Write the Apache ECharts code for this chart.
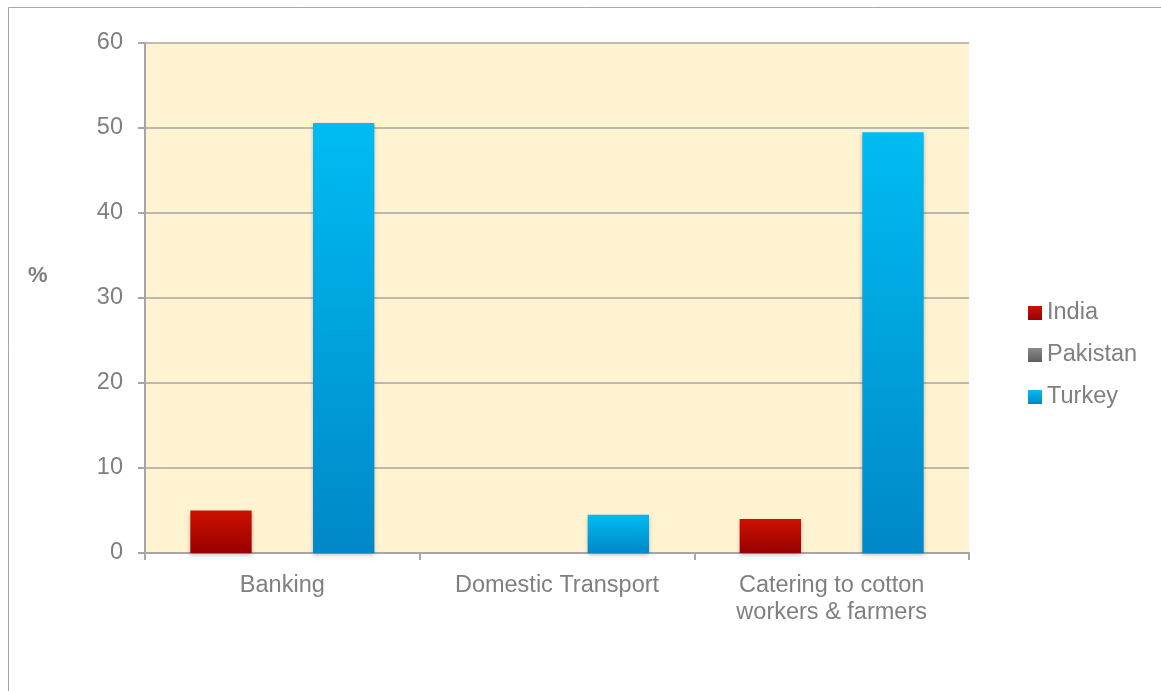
<!DOCTYPE html>
<html><head><meta charset="utf-8">
<script src="https://cdn.jsdelivr.net/npm/echarts@6/dist/echarts.min.js"></script>
<style>html,body{margin:0;padding:0;background:#fff}#c{width:1161px;height:691px}</style>
</head><body><div id="c"></div>
<script>
const categories = ['Banking', 'Domestic Transport', 'Catering to cotton\nworkers & farmers'];
const seriesNames = ['India', 'Pakistan', 'Turkey'];
const india = [5, 0, 4];
const pakistan = [0, 0, 0];
const turkey = [50.6, 4.5, 49.5];
const yTicks = [0, 10, 20, 30, 40, 50, 60];

const grad = (top, bottom) => new echarts.graphic.LinearGradient(0, 0, 0, 1, [
  {offset: 0, color: top}, {offset: 1, color: bottom}
]);
const colors = {
  India: grad('#CC1100', '#990000'),
  Pakistan: grad('#8A8A8A', '#5E5E5E'),
  Turkey: grad('#00BCF2', '#0088C8')
};
const font = 'Liberation Sans, Arial, sans-serif';
const txt = '#7F7F7F';
const values = [india, pakistan, turkey];

const chart = echarts.init(document.getElementById('c'));
chart.setOption({
  animation: false,
  graphic: [
    {type: 'rect', shape: {x: 8.5, y: 7.5, width: 1170, height: 700}, style: {fill: 'none', stroke: '#A6A6A6', lineWidth: 1}, silent: true},
    {type: 'text', left: 28, top: 265, style: {text: '%', font: 'bold 22px ' + font, fill: txt}}
  ],
  legend: {
    orient: 'vertical', left: 1023, top: 296, itemWidth: 14, itemHeight: 14, itemGap: 18,
    data: seriesNames,
    textStyle: {color: txt, fontSize: 23.5, lineHeight: 24, fontFamily: font},
    icon: 'rect'
  },
  grid: {left: 145, right: 192, top: 43, bottom: 138, backgroundColor: '#FFF3D2', show: true, borderWidth: 0},
  xAxis: {
    type: 'category', data: categories,
    axisLine: {lineStyle: {color: '#A6A6A6', width: 2}},
    axisTick: {show: true, length: 7, lineStyle: {color: '#A6A6A6', width: 2}},
    axisLabel: {color: txt, fontSize: 23.5, fontFamily: font, margin: 19, lineHeight: 27}
  },
  yAxis: {
    type: 'value', min: 0, max: 60, interval: 10,
    axisLine: {show: true, lineStyle: {color: '#A6A6A6', width: 2}},
    axisTick: {show: true, length: 7, lineStyle: {color: '#A6A6A6', width: 2}},
    splitLine: {lineStyle: {color: '#A6A6A6', width: 1.5}},
    axisLabel: {color: txt, fontSize: 23.5, fontFamily: font, margin: 22,
      formatter: v => yTicks.includes(v) ? String(v) : ''}
  },
  series: seriesNames.map((n, i) => ({
    name: n, type: 'bar', data: values[i], barGap: '0%', barCategoryGap: '33%',
    itemStyle: {color: colors[n], shadowBlur: 4, shadowColor: 'rgba(0,0,0,0.25)', shadowOffsetY: 2}
  }))
});
</script></body></html>
